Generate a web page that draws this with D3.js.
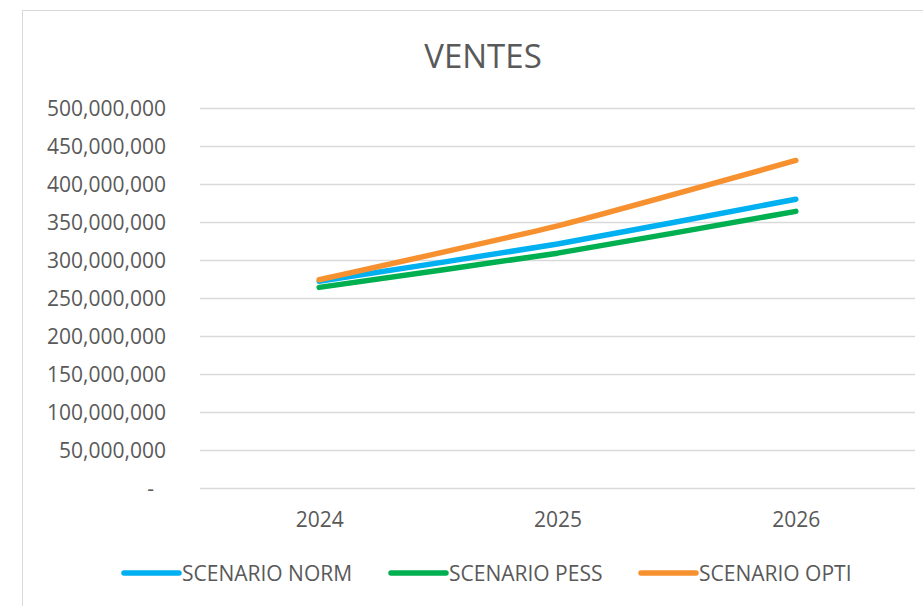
<!DOCTYPE html>
<html>
<head>
<meta charset="utf-8">
<script src="https://cdn.jsdelivr.net/npm/d3@7"></script>
<style>
  body { margin: 0; background: #fff; }
  svg { display: block; font-family: "Open Sans", "Noto Sans", sans-serif; }
</style>
</head>
<body>
<svg id="chart" width="923" height="606"></svg>
<script>
'use strict';

var years = ['2024', '2025', '2026'];
var seriesNames = ['SCENARIO NORM', 'SCENARIO PESS', 'SCENARIO OPTI'];
var normValues = [272000000, 321000000, 380000000];
var pessValues = [264000000, 309000000, 364000000];
var optiValues = [274000000, 345000000, 431000000];
var yTicks = [0, 50000000, 100000000, 150000000, 200000000, 250000000,
              300000000, 350000000, 400000000, 450000000, 500000000];
var colors = ['#00B0F0', '#00B050', '#F7912F'];

var svg = d3.select('#chart');
var margin = { left: 200, right: 8, top: 108, bottom: 118 };
var width = 923, height = 606;

// chart frame (runs past the right and bottom edges)
svg.append('rect')
    .attr('x', 22.5).attr('y', 10.5)
    .attr('width', 940).attr('height', 640)
    .attr('fill', '#fff')
    .attr('stroke', '#d9d9d9').attr('stroke-width', 1);

var x = d3.scalePoint()
    .domain(years)
    .range([margin.left, width - margin.right])
    .padding(0.5);

var y = d3.scaleLinear()
    .domain([0, 500000000])
    .range([height - margin.bottom, margin.top]);

// gridlines + labels
var yAxis = d3.axisLeft(y)
    .tickValues(yTicks)
    .tickSize(-(width - margin.right - margin.left))
    .tickPadding(34)
    .tickFormat(function(d) { return d === 0 ? '-' : d3.format(',')(d); });

var gy = svg.append('g')
    .attr('transform', 'translate(' + margin.left + ',0)')
    .call(yAxis)
    .attr('font-family', null)
    .attr('font-size', null);
gy.select('.domain').remove();
gy.selectAll('.tick line').attr('stroke', '#d9d9d9').attr('stroke-width', 1.5);
gy.selectAll('.tick text')
    .attr('fill', '#595959')
    .attr('font-size', 21)
    .attr('dy', '0.36em');
gy.selectAll('.tick text').filter(function(d) { return d === 0; }).attr('dx', -12);

var xAxis = d3.axisBottom(x).tickSize(0).tickPadding(24);
var gx = svg.append('g')
    .attr('transform', 'translate(0,' + (height - margin.bottom) + ')')
    .call(xAxis)
    .attr('font-family', null)
    .attr('font-size', null);
gx.select('.domain').remove();
gx.selectAll('.tick text')
    .attr('fill', '#595959')
    .attr('font-size', 21);

// title
svg.append('text')
    .attr('x', 483).attr('y', 68)
    .attr('text-anchor', 'middle')
    .attr('fill', '#595959')
    .attr('font-size', 33)
    .text('VENTES');

var series = [normValues, pessValues, optiValues];

var line = d3.line()
    .x(function(d, i) { return x(years[i]); })
    .y(function(d) { return y(d); })
    .curve(d3.curveCardinal.tension(0.5));

svg.append('g')
    .selectAll('path')
    .data(series)
    .enter().append('path')
        .attr('d', line)
        .attr('fill', 'none')
        .attr('stroke', function(d, i) { return colors[i]; })
        .attr('stroke-width', 5.5)
        .attr('stroke-linecap', 'round')
        .attr('stroke-linejoin', 'round');

// legend
var legendX = [124, 391, 641];
var legend = svg.append('g')
    .selectAll('g')
    .data(seriesNames)
    .enter().append('g')
        .attr('transform', function(d, i) { return 'translate(' + legendX[i] + ',573)'; });

legend.append('line')
    .attr('x1', 0).attr('x2', 55)
    .attr('stroke', function(d, i) { return colors[i]; })
    .attr('stroke-width', 5.5)
    .attr('stroke-linecap', 'round');

legend.append('text')
    .attr('x', 58).attr('y', 7.5)
    .attr('fill', '#595959')
    .attr('font-size', 21)
    .text(function(d) { return d; });
</script>
</body>
</html>
